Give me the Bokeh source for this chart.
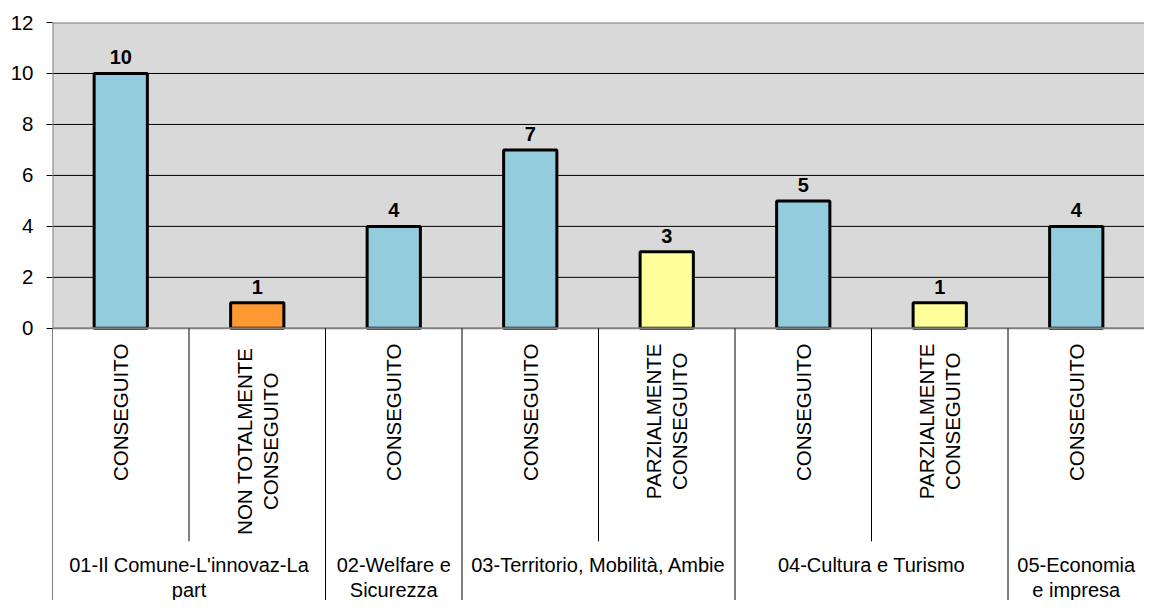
import numpy as np
from bokeh.plotting import figure
from bokeh.models import Range1d, FixedTicker
from bokeh.core.properties import value
from bokeh.embed import file_html
from bokeh.resources import INLINE

# ---------------- data ----------------
groups = [
    "01-Il Comune-L'innovaz-La\npart",
    "01-Il Comune-L'innovaz-La\npart",
    "02-Welfare e\nSicurezza",
    "03-Territorio, Mobilità, Ambie",
    "03-Territorio, Mobilità, Ambie",
    "04-Cultura e Turismo",
    "04-Cultura e Turismo",
    "05-Economia\ne impresa",
]
statuses = [
    "CONSEGUITO",
    "NON TOTALMENTE\nCONSEGUITO",
    "CONSEGUITO",
    "CONSEGUITO",
    "PARZIALMENTE\nCONSEGUITO",
    "CONSEGUITO",
    "PARZIALMENTE\nCONSEGUITO",
    "CONSEGUITO",
]
values = [10, 1, 4, 7, 3, 5, 1, 4]
y_ticks = [0, 2, 4, 6, 8, 10, 12]

# ---------------- styles / layout ----------------
status_color = {
    "CONSEGUITO": "#93CDDD",
    "NON TOTALMENTE\nCONSEGUITO": "#FF9933",
    "PARZIALMENTE\nCONSEGUITO": "#FFFF99",
}
# distance (px) from the zero line to the centre of each rotated label block
status_center_px = {
    "CONSEGUITO": 84,
    "NON TOTALMENTE\nCONSEGUITO": 113,
    "PARZIALMENTE\nCONSEGUITO": 93,
}
FONT = "Liberation Sans"
FRAME_W, FRAME_H = 1092, 578
Y_MAX = 12
Y_MIN = -10.68
PX_PER_UNIT = FRAME_H / (Y_MAX - Y_MIN)


def below(px):
    return -px / PX_PER_UNIT


n = len(values)
xs = [i + 0.5 for i in range(n)]
colors = [status_color[s] for s in statuses]

p = figure(
    frame_width=FRAME_W, frame_height=FRAME_H,
    x_range=Range1d(0, n), y_range=Range1d(Y_MIN, Y_MAX),
    x_axis_location=None, y_axis_location="left",
    toolbar_location=None, output_backend="svg",
    min_border_left=52, min_border_top=22, min_border_right=0, min_border_bottom=0,
)
p.outline_line_color = None
p.xgrid.visible = False
p.ygrid.visible = False
p.background_fill_color = "white"
p.border_fill_color = "white"

ax = p.yaxis[0]
ax.ticker = FixedTicker(ticks=y_ticks)
ax.axis_line_color = None
ax.major_tick_out = 6
ax.major_tick_in = 0
ax.major_tick_line_color = "black"
ax.minor_tick_line_color = None
ax.major_label_text_font = FONT
ax.major_label_text_font_size = "20.5px"
ax.major_label_text_color = "black"
ax.major_label_standoff = 13

# plot area background
p.quad(left=[0], right=[n], bottom=[0], top=[Y_MAX],
       fill_color="#D9D9D9", line_color=None)
# gridlines
grid_y = [t for t in y_ticks if 0 < t < Y_MAX]
p.segment(x0=[0] * len(grid_y), x1=[n] * len(grid_y), y0=grid_y, y1=grid_y,
          line_color="black", line_width=1)

# bars
p.vbar(x=xs, top=values, width=0.39, fill_color=colors,
       line_color="black", line_width=3)

# value labels
p.text(x=xs, y=values, text=[str(v) for v in values], text_align="center",
       text_baseline="middle", y_offset=-16, text_font=value(FONT),
       text_font_size="20px", text_font_style="bold", text_color="black")

# plot-area border (gray)
p.segment(x0=[0, 0, 0], x1=[n, n, 0], y0=[Y_MAX, 0, 0], y1=[Y_MAX, 0, Y_MAX],
          line_color="#808080", line_width=2)

# separators in the category area
bounds_full, bounds_short = [0], []
for i in range(1, n):
    (bounds_full if groups[i] != groups[i - 1] else bounds_short).append(i)
bounds_full.append(n)
p.segment(x0=bounds_full, x1=bounds_full, y0=[0] * len(bounds_full),
          y1=[Y_MIN] * len(bounds_full), line_color="black", line_width=1)
p.segment(x0=bounds_short, x1=bounds_short, y0=[0] * len(bounds_short),
          y1=[below(213)] * len(bounds_short), line_color="black", line_width=1)

# rotated status labels
p.text(x=xs, y=[below(status_center_px[s]) for s in statuses], text=statuses,
       angle=np.pi / 2, text_align="center", text_baseline="middle",
       text_font=value(FONT), text_font_size="20.5px", text_color="black",
       text_line_height=1.15)

# group labels
g_names, g_x = [], []
start = 0
for i in range(1, n + 1):
    if i == n or groups[i] != groups[start]:
        g_names.append(groups[start])
        g_x.append((start + i) / 2)
        start = i
p.text(x=g_x, y=[below(226)] * len(g_x), text=g_names, text_align="center",
       text_baseline="top", text_font=value(FONT), text_font_size="20px",
       text_color="black", text_line_height=1.1)

open("out.html", "w").write(file_html(p, INLINE))
